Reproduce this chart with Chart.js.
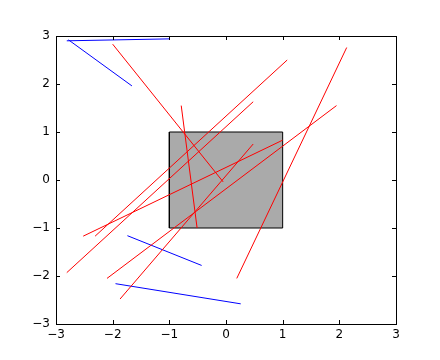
<!DOCTYPE html>
<html>
<head>
<meta charset="utf-8">
<script src="https://cdn.jsdelivr.net/npm/chart.js@4.4.0/dist/chart.umd.min.js"></script>
<style>
  body { margin: 0; background: #fff; }
</style>
</head>
<body>
<canvas id="grafico" width="440" height="360"></canvas>
<script>
// Segmentos rojos (inicio -> fin)
const rojoX1 = [-2.0, -0.79, -2.52, -2.31, -2.81, -2.10, -1.87, 0.19];
const rojoY1 = [2.83, 1.55, -1.17, -1.17, -1.93, -2.05, -2.48, -2.05];
const rojoX2 = [-0.05, -0.51, 1.00, 1.08, 0.48, 1.95, 0.48, 2.13];
const rojoY2 = [-0.04, -1.00, 0.83, 2.50, 1.63, 1.55, 0.75, 2.76];

// Segmentos azules
const azulX1 = [-2.81, -2.78, -1.74, -1.95];
const azulY1 = [2.90, 2.92, -1.16, -2.16];
const azulX2 = [-1.00, -1.66, -0.43, 0.26];
const azulY2 = [2.94, 1.96, -1.78, -2.58];

// Rectangulo gris
const rectX = [-1, 1, 1, -1, -1];
const rectY = [-1, -1, 1, 1, -1];

const ticks = [-3, -2, -1, 0, 1, 2, 3];

function segmentos(x1, y1, x2, y2, color) {
    return x1.map((_, i) => ({
        data: [{ x: x1[i], y: y1[i] }, { x: x2[i], y: y2[i] }],
        borderColor: color,
        borderWidth: 1,
        pointRadius: 0,
        fill: false,
        order: 1
    }));
}

const datasets = [{
    data: rectX.map((x, i) => ({ x: x, y: rectY[i] })),
    borderColor: '#000000',
    backgroundColor: '#aaaaaa',
    borderWidth: 1,
    pointRadius: 0,
    fill: 'shape',
    order: 2
}].concat(
    segmentos(rojoX1, rojoY1, rojoX2, rojoY2, '#ff0000'),
    segmentos(azulX1, azulY1, azulX2, azulY2, '#0000ff')
);

// Marco y marcas hacia dentro, estilo matplotlib
const marco = {
    id: 'marco',
    afterDatasetsDraw(chart) {
        const { ctx, chartArea: a, scales } = chart;
        ctx.save();
        ctx.strokeStyle = '#000';
        ctx.lineWidth = 1;
        ctx.strokeRect(Math.round(a.left) + 0.5, Math.round(a.top) + 0.5,
            Math.round(a.right - a.left), Math.round(a.bottom - a.top));
        ctx.beginPath();
        ticks.forEach(v => {
            const px = Math.round(scales.x.getPixelForValue(v)) + 0.5;
            ctx.moveTo(px, a.bottom); ctx.lineTo(px, a.bottom - 4);
            ctx.moveTo(px, a.top); ctx.lineTo(px, a.top + 4);
            const py = Math.round(scales.y.getPixelForValue(v)) + 0.5;
            ctx.moveTo(a.left, py); ctx.lineTo(a.left + 4, py);
            ctx.moveTo(a.right, py); ctx.lineTo(a.right - 4, py);
        });
        ctx.stroke();
        ctx.restore();
    }
};

const etiqueta = v => String(v).replace('-', '\u2212');
const fuente = { family: 'DejaVu Sans', size: 12 };

new Chart(document.getElementById('grafico').getContext('2d'), {
    type: 'line',
    data: { datasets: datasets },
    options: {
        responsive: false,
        animation: false,
        layout: { padding: { left: 0, top: 36, right: 44, bottom: 0 } },
        plugins: { legend: { display: false }, tooltip: { enabled: false } },
        scales: {
            x: {
                type: 'linear', min: -3, max: 3,
                grid: { display: false, drawTicks: false },
                border: { display: false },
                ticks: { stepSize: 1, padding: 4, color: '#000', font: fuente, callback: etiqueta, maxRotation: 0 },
                afterFit(scale) { scale.height = 36; }
            },
            y: {
                type: 'linear', min: -3, max: 3,
                grid: { display: false, drawTicks: false },
                border: { display: false },
                ticks: { stepSize: 1, padding: 6, color: '#000', font: fuente, callback: etiqueta },
                afterFit(scale) { scale.width = 56; }
            }
        }
    },
    plugins: [marco]
});
</script>
</body>
</html>
